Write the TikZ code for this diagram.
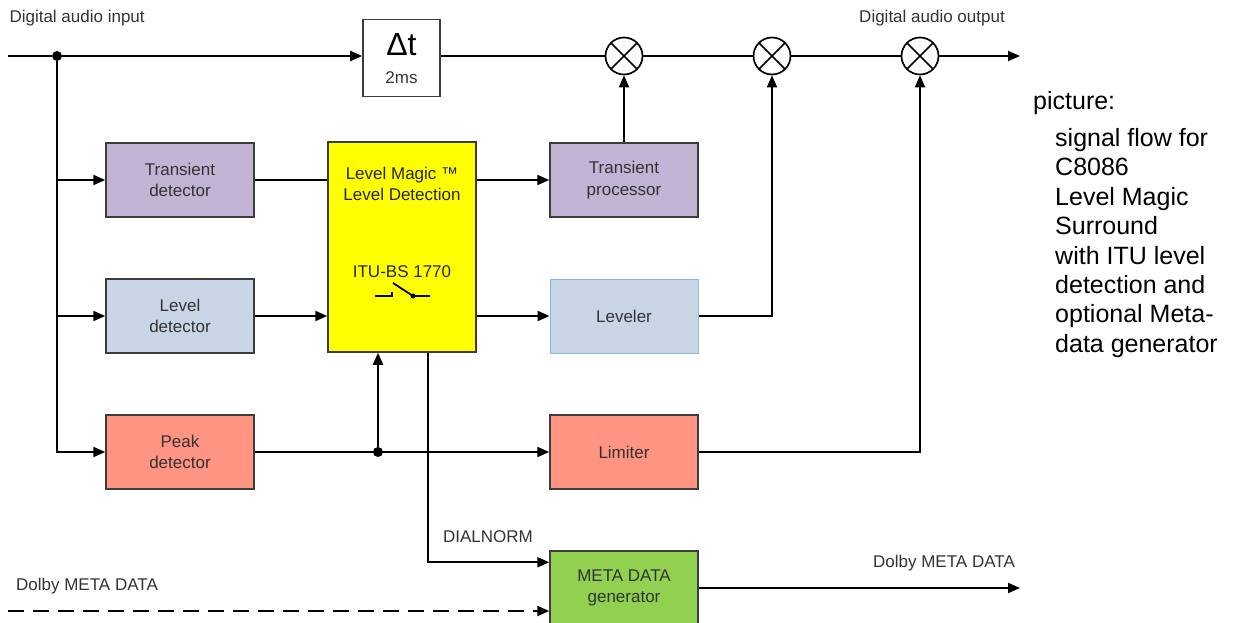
\documentclass[tikz,border=0pt]{standalone}
\usepackage{fontspec}
\setmainfont{Liberation Sans}
\usepackage{tikz}
\usetikzlibrary{arrows.meta, positioning, calc}
\definecolor{trpurple}{HTML}{C3B3D4}
\definecolor{lvblue}{HTML}{C8D5E6}
\definecolor{pkred}{HTML}{FF9482}
\definecolor{lmyellow}{HTML}{FFFF00}
\definecolor{mdgreen}{HTML}{92D050}
\definecolor{edgegray}{HTML}{3C3C3C}
\definecolor{lvedge}{HTML}{8EB4E3}
\definecolor{txtgray}{HTML}{333333}

\begin{document}
\begin{tikzpicture}[x=1pt, y=-1pt,
    block/.style={rectangle, draw=edgegray, line width=1.5pt, fill=#1, minimum width=148pt, minimum height=74pt, inner sep=0pt, align=center, text=txtgray, font=\fontsize{17}{21.5}\selectfont},
    mult/.style={circle, draw=black, line width=1.7pt, minimum size=37pt, inner sep=0pt, path picture={\draw[line width=1.7pt] (path picture bounding box.north west) -- (path picture bounding box.south east) (path picture bounding box.north east) -- (path picture bounding box.south west);}},
    wire/.style={line width=2pt, draw=black},
    sig/.style={wire, -{Triangle[length=12pt, width=10pt]}},
    junction/.style={circle, fill=black, inner sep=0pt, minimum size=10pt},
    sigtext/.style={text=txtgray, font=\fontsize{17}{21.5}\selectfont},
    note/.style={anchor=base west, inner sep=0pt, font=\fontsize{25}{29}\selectfont}
]
\useasboundingbox (0,0) rectangle (1234,623);

% main signal path
\coordinate (in) at (8,56);
\node[junction] (split) at (57,56) {};
\node[draw=edgegray, line width=1.6pt, minimum width=77pt, minimum height=77pt] (delay) at (401.5,58) {};
\node[font=\fontsize{32}{33}\selectfont] (dt) at (401.5,45) {Δt};
\node[sigtext] (dtms) at (401.5,78) {2ms};
\node[mult] (m1) at (624,56) {};
\node[mult] (m2) at (772,56) {};
\node[mult] (m3) at (920,56) {};
\coordinate (out) at (1020,56);

% processing blocks
\node[block=trpurple] (trdet) at (180,180) {Transient\\detector};
\node[block=lvblue] (lvdet) at (180,316) {Level\\detector};
\node[block=pkred] (pkdet) at (180,452) {Peak\\detector};
\node[block=lmyellow, minimum height=210pt] (lmd) at (402,247) {};
\node[block=trpurple] (trproc) at (624,180) {Transient\\processor};
\node[block=lvblue, draw=lvedge, line width=1pt] (lvl) at (624,316) {Leveler};
\node[block=pkred] (lim) at (624,452) {Limiter};
\node[block=mdgreen] (mdgen) at (624,588) {META DATA\\generator};

% inside the level detection block
\node[sigtext, align=center, text=black!85] (lmtitle) at (402,184) {Level Magic ™\\Level Detection};
\node[sigtext, text=black!85] (itu) at (402,272) {ITU-BS 1770};
\draw[line width=1.8pt] (375,296) -- (392,296) -- (392,292);
\draw[line width=1.8pt] (393,283) -- (413,296) -- (430,296);
\fill (413,296) circle (2.5pt);

% connections
\draw[wire] (in) -- (split);
\draw[sig] (split) -- (split -| delay.west);
\draw[wire] (delay.east |- m1) -- (m1);
\draw[wire] (m1) -- (m2);
\draw[wire] (m2) -- (m3);
\draw[sig] (m3) -- (out);
\draw[sig] (split |- trdet) -- (trdet);
\draw[sig] (split |- lvdet) -- (lvdet);
\draw[sig] (split) |- (pkdet);
\draw[wire] (trdet) -- (trdet -| lmd.west);
\draw[sig] (lvdet) -- (lvdet -| lmd.west);
\draw[sig] (lmd.east |- trproc) -- (trproc);
\draw[sig] (lmd.east |- lvl) -- (lvl);
\draw[sig] (trproc) -- (m1);
\draw[sig] (lvl) -| (m2);
\draw[sig] (lim) -| (m3);

% peak path and tap into level detection
\node[junction] (tap) at (378,452) {};
\draw[sig] (pkdet) -- (lim);
\draw[sig] (tap) -- (tap |- lmd.south);

% dialnorm and meta data
\coordinate (dnout) at ($(lmd.south)+(26,0)$);
\coordinate (dnin) at ($(mdgen.north west)+(0,12)$);
\draw[sig] (dnout) |- (dnin);
\node[sigtext] (dnlbl) at (488,537) {DIALNORM};
\coordinate (mdin) at (8,611);
\draw[sig, dash pattern=on 16pt off 9pt] (mdin) -- (mdin -| mdgen.west);
\coordinate (mdout) at (1020,588);
\draw[sig] (mdgen) -- (mdout);

% labels
\node[sigtext, anchor=west] (inlbl) at (6,18) {Digital audio input};
\node[sigtext] (outlbl) at (932,18) {Digital audio output};
\node[sigtext] (mdinlbl) at (87,586) {Dolby META DATA};
\node[sigtext] (mdoutlbl) at (944,563) {Dolby META DATA};

% caption at the right
\node[note] (cap0) at (1033,110) {picture:};
\foreach \txt [count=\i] in {signal flow for, C8086, Level Magic, Surround, with ITU level, detection and, optional Meta-, data generator}
    \node[note] (cap\i) at (1055,117+29.4*\i) {\txt};

\end{tikzpicture}
\end{document}
